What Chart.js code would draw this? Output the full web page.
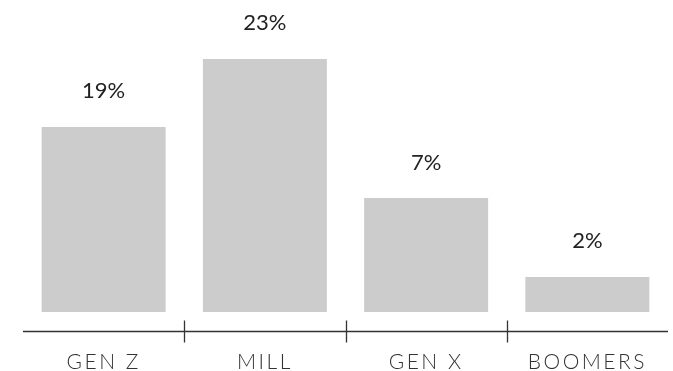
<!DOCTYPE html>
<html>
<head>
<meta charset="utf-8">
<script src="https://cdn.jsdelivr.net/npm/chart.js@4/dist/chart.umd.min.js"></script>
<style>
  html, body { margin: 0; padding: 0; background: #fff; }
  #wrap { width: 673px; height: 371px; position: relative; }
</style>
</head>
<body>
<div id="wrap"><canvas id="genChart"></canvas></div>
<script>
// categories + values
const generations = ['GEN Z', 'MILL', 'GEN X', 'BOOMERS'];
const shareLabels = ['19%', '23%', '7%', '2%'];
// bar lengths as drawn in the picture (same units as the 23% bar)
const barLengths = [16.82, 23, 10.36, 3.18];

// labels above each bar
const valueLabelPlugin = {
    id: 'valueLabels',
    afterDatasetsDraw(chart) {
        const ctx = chart.ctx;
        const meta = chart.getDatasetMeta(0);
        ctx.save();
        ctx.letterSpacing = '0px';
        ctx.font = '400 22px Lato';
        ctx.fillStyle = '#222';
        ctx.textAlign = 'center';
        ctx.textBaseline = 'alphabetic';
        meta.data.forEach((bar, i) => {
            ctx.fillText(shareLabels[i], bar.x, bar.y - 28.5);
        });
        ctx.restore();
    }
};

// wider spacing only for the category labels, then the axis line + ticks
const axisPlugin = {
    id: 'axisLine',
    beforeDraw(chart) {
        chart.ctx.letterSpacing = '2.5px';
    },
    beforeDatasetsDraw(chart) {
        chart.ctx.letterSpacing = '0px';
    },
    afterDraw(chart) {
        const ctx = chart.ctx;
        const area = chart.chartArea;
        const x = chart.scales.x;
        const step = x.width / generations.length;
        const y = Math.round(area.bottom) + 0.5;
        ctx.save();
        ctx.strokeStyle = '#333';
        ctx.lineWidth = 1.3;
        ctx.beginPath();
        ctx.moveTo(area.left, y);
        ctx.lineTo(area.right, y);
        for (let i = 1; i < generations.length; i++) {
            const px = Math.round(x.getPixelForValue(i) - step / 2) + 0.5;
            ctx.moveTo(px, y - 11);
            ctx.lineTo(px, y + 11);
        }
        ctx.stroke();
        ctx.restore();
    }
};

new Chart(document.getElementById('genChart'), {
    type: 'bar',
    data: {
        labels: generations,
        datasets: [{
            data: barLengths,
            backgroundColor: '#cccccc',
            borderWidth: 0,
            barPercentage: 0.769,
            categoryPercentage: 1
        }]
    },
    options: {
        responsive: true,
        maintainAspectRatio: false,
        animation: false,
        layout: { padding: { left: 23, right: 5, top: 0, bottom: 0 } },
        plugins: { legend: { display: false }, tooltip: { enabled: false } },
        scales: {
            x: {
                grid: { display: false, drawTicks: false },
                border: { display: false },
                ticks: {
                    color: '#333',
                    font: { family: 'Lato', size: 21, weight: '300' },
                    padding: 19,
                    maxRotation: 0
                },
                afterFit(scale) { scale.height = 40; }
            },
            y: {
                display: false,
                min: -1.73,
                max: 28.36
            }
        }
    },
    plugins: [valueLabelPlugin, axisPlugin]
});
</script>
</body>
</html>
